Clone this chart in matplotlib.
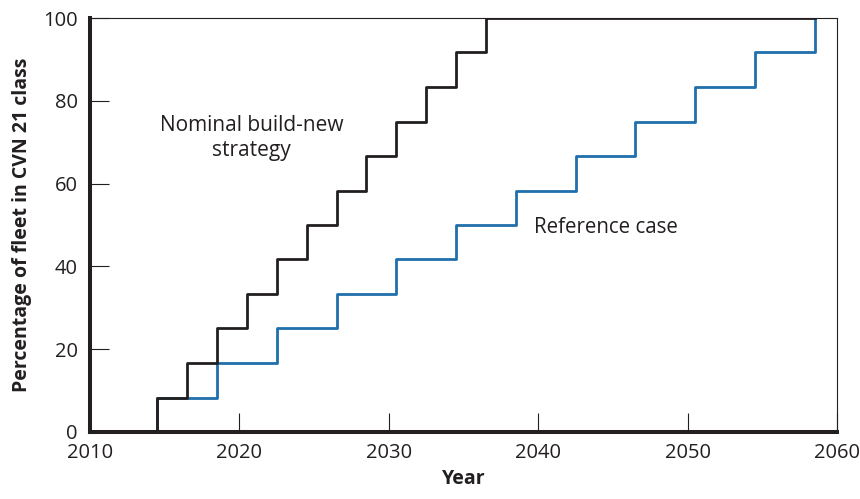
import matplotlib.pyplot as plt

# Данные: ступенчатые графики доли флота класса CVN 21
build_new_years = [2014.5, 2014.5, 2016.5, 2018.5, 2020.5, 2022.5, 2024.5,
                   2026.5, 2028.5, 2030.5, 2032.5, 2034.5, 2036.5, 2058.5]
build_new_pct = [0, 8.3, 16.7, 25.0, 33.3, 41.7, 50.0,
                 58.3, 66.7, 75.0, 83.3, 91.7, 100, 100]

reference_years = [2014.5, 2014.5, 2018.5, 2022.5, 2026.5, 2030.5, 2034.5,
                   2038.5, 2042.5, 2046.5, 2050.5, 2054.5, 2058.5]
reference_pct = [0, 8.3, 16.7, 25.0, 33.3, 41.7, 50.0,
                 58.3, 66.7, 75.0, 83.3, 91.7, 100]

x_ticks = [2010, 2020, 2030, 2040, 2050, 2060]
y_ticks = [0, 20, 40, 60, 80, 100]

plt.rcParams['font.family'] = ['Open Sans', 'DejaVu Sans']
text_color = '#231f20'
blue = '#1f6fad'

fig = plt.figure(figsize=(8.6, 4.99), dpi=100)
ax = fig.add_axes([0.1047, 0.1343, 0.8686, 0.8296])

ax.step(reference_years, reference_pct, where='post', color=blue, lw=2.0, zorder=3)
ax.step(build_new_years, build_new_pct, where='post', color=text_color, lw=2.0, zorder=4)

ax.set_xlim(2010, 2060)
ax.set_ylim(0, 100)
ax.set_xticks(x_ticks)
ax.set_yticks(y_ticks)

for side in ['left', 'bottom']:
    ax.spines[side].set_linewidth(2.9)
    ax.spines[side].set_color(text_color)
for side in ['top', 'right']:
    ax.spines[side].set_linewidth(0.8)
    ax.spines[side].set_color(text_color)
ax.spines['left'].set_zorder(5)
ax.spines['bottom'].set_zorder(5)

ax.tick_params(direction='in', length=14, width=0.8, colors=text_color,
               labelsize=14.5, top=False, right=False)
ax.tick_params(axis='x', pad=8)
ax.tick_params(axis='y', pad=9)

ax.set_xlabel('Year', fontsize=14, fontweight='bold', color=text_color, labelpad=4)
ax.set_ylabel('Percentage of fleet in CVN 21 class', fontsize=14,
              fontweight='bold', color=text_color, labelpad=8)

ax.text(2020.8, 71, 'Nominal build-new\nstrategy', ha='center', va='center',
        fontsize=15, color=text_color, linespacing=1.2)
ax.text(2044.5, 49.3, 'Reference case', ha='center', va='center',
        fontsize=14.8, color=text_color)

fig.savefig('out.png', dpi=100)
